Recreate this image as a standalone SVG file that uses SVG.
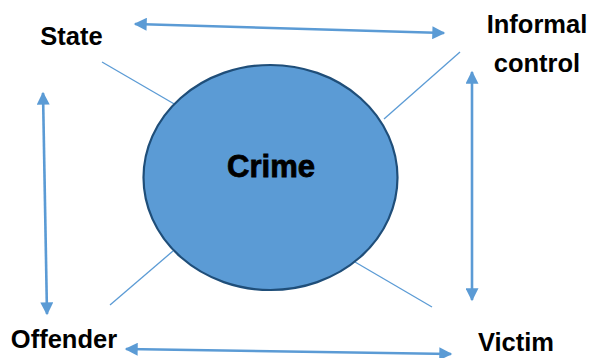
<svg xmlns="http://www.w3.org/2000/svg" width="591" height="358" viewBox="0 0 591 358">
<style>
.lbl{font-family:"Liberation Sans",Arial,sans-serif;font-weight:bold;font-size:25.5px;fill:#000;text-anchor:middle}
.crime{font-family:"Liberation Sans",Arial,sans-serif;font-weight:900;font-size:31px;fill:#000;text-anchor:middle;stroke:#000;stroke-width:0.8}
.arr{stroke:#5B9BD5;stroke-width:2.6;fill:none;marker-start:url(#ah);marker-end:url(#ah)}
.thin{stroke:#5B9BD5;stroke-width:1.3;fill:none}
</style>
<defs>
<marker id="ah" viewBox="0 0 10 10" refX="9" refY="5" markerWidth="5.8" markerHeight="5" orient="auto-start-reverse" markerUnits="strokeWidth">
<path d="M0,0 L10,5 L0,10 Z" fill="#5B9BD5"/>
</marker>
</defs>
<rect width="591" height="358" fill="#fff"/>
<g id="connectors">
<line class="arr" x1="135" y1="24" x2="444" y2="33"/>
<line class="arr" x1="43" y1="93" x2="47" y2="314"/>
<line class="arr" x1="472" y1="72" x2="472" y2="300"/>
<line class="arr" x1="126" y1="349" x2="451" y2="354"/>
<line class="thin" x1="102" y1="62" x2="176" y2="105"/>
<line class="thin" x1="460" y1="52" x2="384" y2="119"/>
<line class="thin" x1="110" y1="305" x2="173" y2="251"/>
<line class="thin" x1="355" y1="262" x2="432" y2="307"/>
</g>
<g id="crime">
<ellipse cx="270.5" cy="177.5" rx="127" ry="112.5" fill="#5B9BD5" stroke="#1F4E79" stroke-width="2.2"/>
<text class="crime" x="271" y="177">Crime</text>
</g>
<g id="state"><text class="lbl" x="71.5" y="45">State</text></g>
<g id="informal"><text class="lbl" x="537" y="33">Informal</text><text class="lbl" x="537" y="72">control</text></g>
<g id="offender"><text class="lbl" x="64" y="348">Offender</text></g>
<g id="victim"><text class="lbl" x="516" y="351">Victim</text></g>
</svg>
